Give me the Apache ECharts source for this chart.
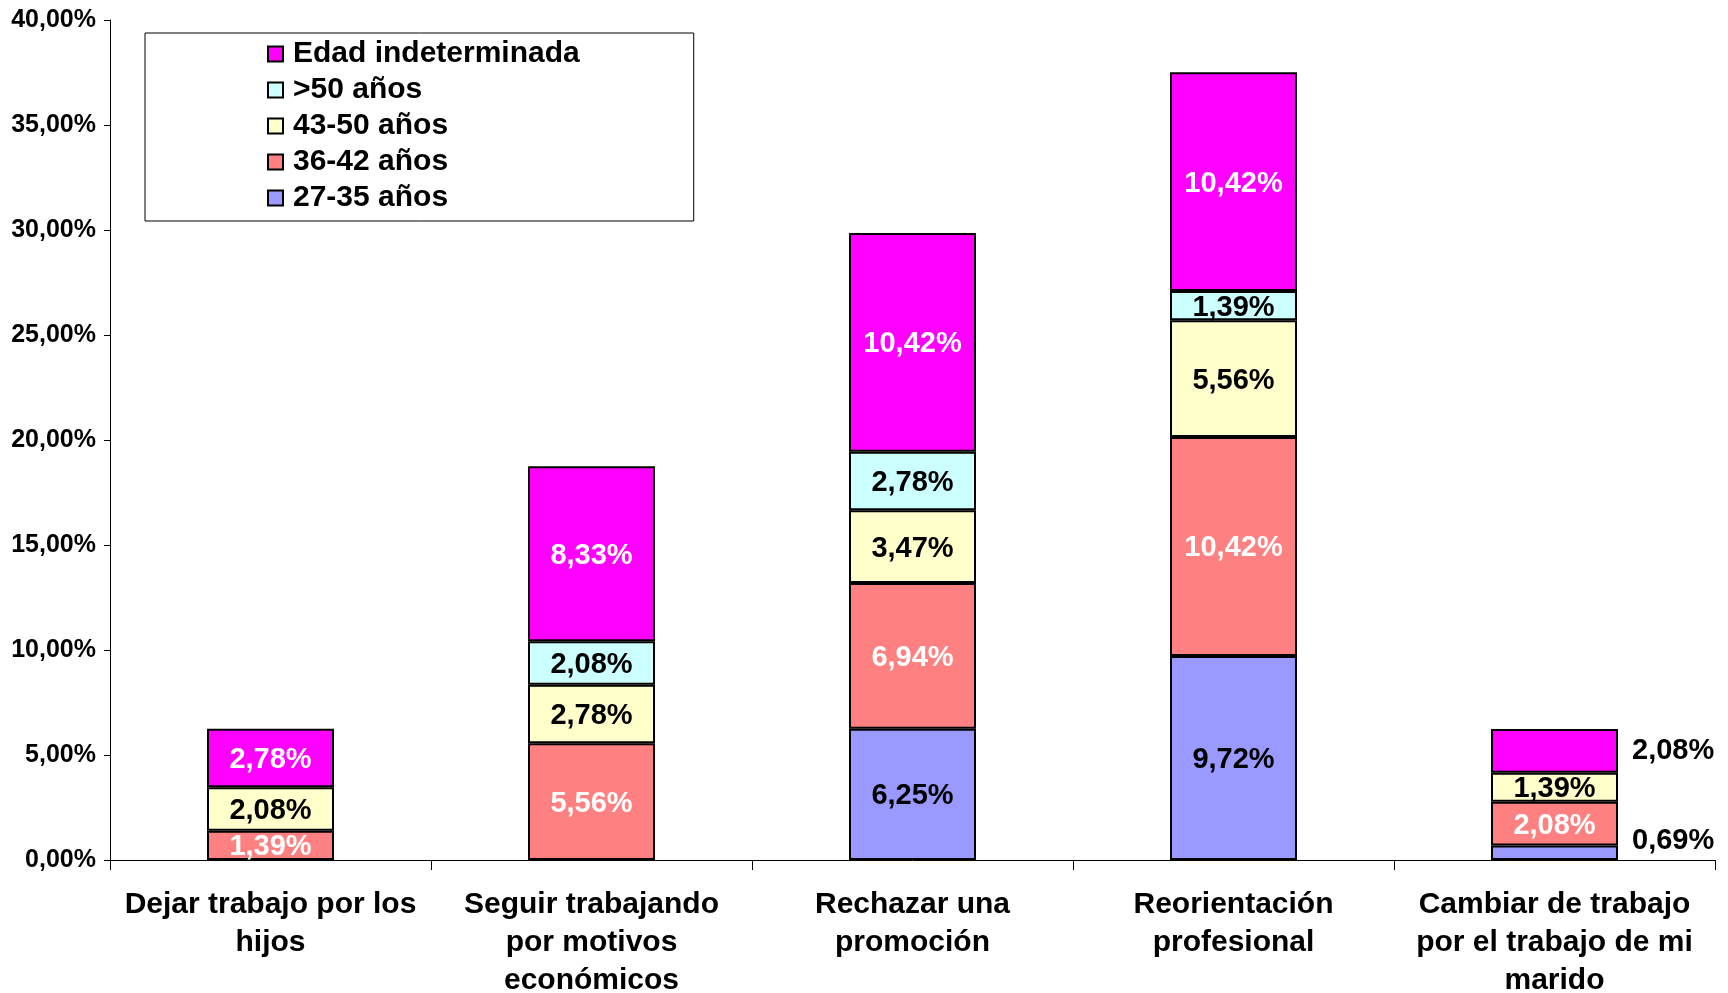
<!DOCTYPE html>
<html>
<head>
<meta charset="utf-8">
<script src="https://cdn.jsdelivr.net/npm/echarts@6/dist/echarts.min.js"></script>
<style>
  html, body { margin: 0; padding: 0; background: #fff; }
  #chart { width: 1728px; height: 993px; }
</style>
</head>
<body>
<div id="chart"></div>
<script>
// categorias y porcentajes por grupo de edad
const categories = [
  'Dejar trabajo por los\nhijos',
  'Seguir trabajando\npor motivos\neconómicos',
  'Rechazar una\npromoción',
  'Reorientación\nprofesional',
  'Cambiar de trabajo\npor el trabajo de mi\nmarido'
];
const edad27_35 = [0, 0, 6.25, 9.72, 0.69];
const edad36_42 = [1.39, 5.56, 6.94, 10.42, 2.08];
const edad43_50 = [2.08, 2.78, 3.47, 5.56, 1.39];
const edadMas50 = [0, 2.08, 2.78, 1.39, 0];
const edadIndet = [2.78, 8.33, 10.42, 10.42, 2.08];
const yTicks = [0, 5, 10, 15, 20, 25, 30, 35, 40];

const font = 'Liberation Sans, Arial, sans-serif';
const fmt = v => v.toFixed(2).replace('.', ',') + '%';

// etiquetas fuera de la barra en la última categoría
function build(values, outside, offset) {
  return values.map((v, i) => {
    if (v === 0) return '-';
    if (outside && i === values.length - 1) {
      return { value: v, label: { position: 'right', distance: 14, color: '#000', offset: offset } };
    }
    return v;
  });
}

function serie(name, color, labelColor, data) {
  return {
    name: name,
    type: 'bar',
    stack: 'total',
    barWidth: 127,
    data: data,
    itemStyle: { color: color, borderColor: '#000', borderWidth: 2 },
    label: {
      show: true,
      position: 'inside',
      offset: [0, 2],
      color: labelColor,
      fontFamily: font,
      fontWeight: 'bold',
      fontSize: 29,
      formatter: p => fmt(p.value)
    },
    emphasis: { disabled: true }
  };
}

const chart = echarts.init(document.getElementById('chart'));
chart.setOption({
  animation: false,
  grid: { left: 110, right: 13, top: 20, bottom: 133, outerBoundsMode: 'none', containLabel: false },
  legend: {
    orient: 'vertical',
    left: 145,
    top: 33,
    padding: [6, 114, 8, 122],
    itemGap: 6,
    itemWidth: 15,
    itemHeight: 15,
    icon: 'rect',
    borderColor: '#000',
    borderWidth: 1,
    data: ['Edad indeterminada', '>50 años', '43-50 años', '36-42 años', '27-35 años'],
    textStyle: { fontFamily: font, fontWeight: 'bold', fontSize: 30, color: '#000', padding: [0, 0, 0, 5] }
  },
  xAxis: {
    type: 'category',
    data: categories,
    axisLine: { lineStyle: { color: '#000', width: 1 } },
    axisTick: { show: true, length: 10, lineStyle: { color: '#000' } },
    axisLabel: {
      interval: 0,
      margin: 26,
      color: '#000',
      fontFamily: font,
      fontWeight: 'bold',
      fontSize: 30,
      lineHeight: 38
    }
  },
  yAxis: {
    type: 'value',
    min: yTicks[0],
    max: yTicks[yTicks.length - 1],
    interval: 5,
    splitLine: { show: false },
    axisLine: { show: true, lineStyle: { color: '#000', width: 1 } },
    axisTick: { show: true, length: 6, lineStyle: { color: '#000' } },
    axisLabel: {
      margin: 14,
      color: '#000',
      fontFamily: font,
      fontWeight: 'bold',
      fontSize: 25,
      formatter: v => fmt(v)
    }
  },
  series: [
    serie('27-35 años', '#9999FF', '#000', build(edad27_35, true, [0, -12])),
    serie('36-42 años', '#FF8080', '#fff', build(edad36_42, false)),
    serie('43-50 años', '#FFFFCC', '#000', build(edad43_50, false)),
    serie('>50 años', '#CCFFFF', '#000', build(edadMas50, false)),
    serie('Edad indeterminada', '#FF00FF', '#fff', build(edadIndet, true, [0, 0]))
  ]
});
</script>
</body>
</html>
